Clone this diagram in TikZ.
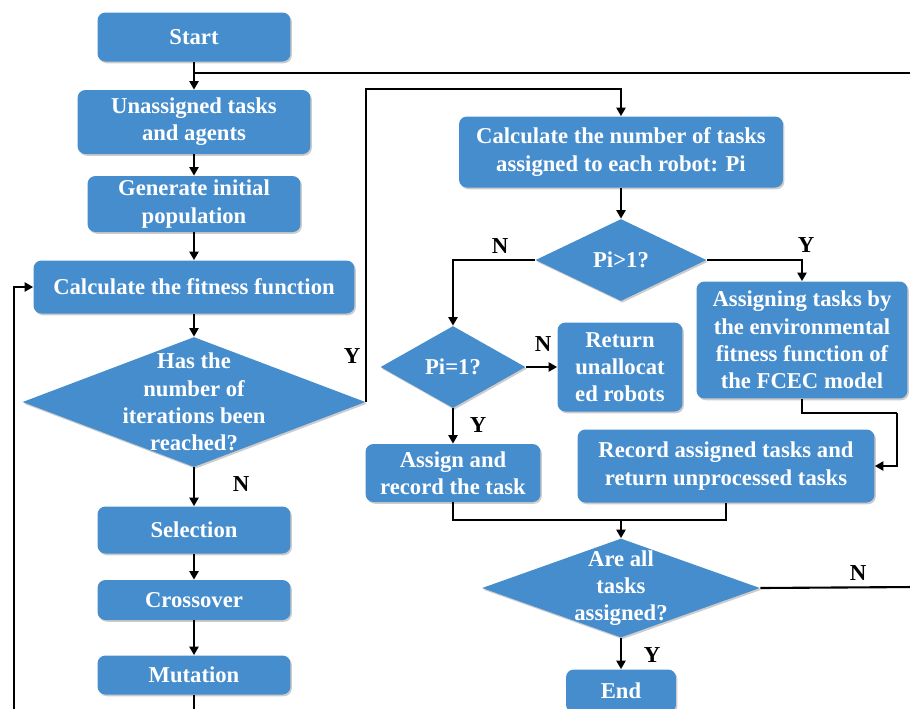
\documentclass[tikz,border=0pt]{standalone}
\usepackage{fontspec}
\setmainfont{Liberation Serif}
\usetikzlibrary{arrows.meta,shapes.geometric,shadows}
\definecolor{boxblue}{HTML}{468DCD}
\tikzset{blk/.style={fill=boxblue,rounded corners=4.5pt,text=white,align=center,inner sep=0pt,
  font=\bfseries\fontsize{12.9}{15.5}\selectfont,drop shadow={shadow xshift=0.8pt,shadow yshift=-1pt,opacity=0.4}},
dec/.style={diamond,fill=boxblue,inner sep=0pt,drop shadow={shadow xshift=0.8pt,shadow yshift=-1pt,opacity=0.4}},
dectext/.style={text=white,align=center,inner sep=0pt,font=\bfseries\fontsize{12.9}{15.5}\selectfont},
flow/.style={-{Triangle[length=1.7mm,width=1.8mm]},line width=1.2pt},
line/.style={line width=1.2pt},
yn/.style={font=\bfseries\fontsize{13}{15}\selectfont}}

\begin{document}
\begin{tikzpicture}[x=0.02cm,y=-0.02cm]
\clip (0,0) rectangle (910,708);
% genetic loop
\node[blk,minimum width=3.86cm,minimum height=0.98cm] (start) at (194,37) {Start};
\node[blk,minimum width=4.66cm,minimum height=1.28cm] (unas) at (194,122) {Unassigned tasks\\and agents};
\node[blk,minimum width=4.26cm,minimum height=1.12cm] (gen) at (194,204) {Generate initial\\population};
\node[blk,minimum width=6.42cm,minimum height=1.06cm] (fit) at (194,287) {Calculate the fitness function};
\node[dec,minimum width=6.86cm,minimum height=2.6cm,label={[dectext]center:{Has the\\number of\\iterations been\\reached?}}] (iter) at (194,402) {};
\node[blk,minimum width=3.86cm,minimum height=0.94cm] (sel) at (194,530) {Selection};
\node[blk,minimum width=3.86cm,minimum height=0.8cm] (cross) at (194,600) {Crossover};
\node[blk,minimum width=3.86cm,minimum height=0.78cm] (mut) at (194,675) {Mutation};
% task allocation
\node[blk,minimum width=6.48cm,minimum height=1.42cm] (count) at (621,152) {Calculate the number of tasks\\assigned to each robot: Pi};
\node[dec,minimum width=3.42cm,minimum height=1.64cm,label={[dectext]center:{Pi>1?}}] (pmore) at (621,260) {};
\node[blk,minimum width=4.22cm,minimum height=2.34cm] (fcec) at (802,340) {Assigning tasks by\\the environmental\\fitness function of\\the FCEC model};
\node[dec,minimum width=2.9cm,minimum height=1.64cm,label={[dectext]center:{Pi=1?}}] (pone) at (453,367) {};
\node[blk,minimum width=2.5cm,minimum height=1.78cm] (ret) at (620,367) {Return\\unallocat\\ed robots};
\node[blk,minimum width=3.5cm,minimum height=1.16cm] (asg) at (453,473) {Assign and\\record the task};
\node[blk,minimum width=5.94cm,minimum height=1.46cm] (rec) at (726,466) {Record assigned tasks and\\return unprocessed tasks};
\node[dec,minimum width=5.56cm,minimum height=1.98cm,label={[dectext]center:{Are all\\tasks\\assigned?}}] (done) at (621,588) {};
\node[blk,minimum width=2.2cm,minimum height=0.86cm] (end) at (621,691) {End};
% labels
\node[yn] (y1) at (352,356) {Y};
\node[yn] (n1) at (241,484) {N};
\node[yn] (n2) at (500,246) {N};
\node[yn] (y2) at (806,245) {Y};
\node[yn] (n3) at (543,344) {N};
\node[yn] (y3) at (478,425) {Y};
\node[yn] (n4) at (858,573) {N};
\node[yn] (y4) at (652,655) {Y};
% free ends
\coordinate (nout) at (915,587);
\coordinate (nin) at (915,73);
\coordinate (join) at (194,73);
\coordinate (mutout) at (194,715);
\coordinate (loopin) at (14,715);
\coordinate (bend) at (897,413);
\coordinate (merge) at (621,520);
% connectors
\draw[flow] (start) -- (unas);
\draw[line] (nin) -- (join);
\draw[flow] (unas) -- (gen);
\draw[flow] (gen) -- (fit);
\draw[flow] (fit) -- (iter);
\draw[flow] (iter) -- (sel);
\draw[flow] (sel) -- (cross);
\draw[flow] (cross) -- (mut);
\draw[line] (mut) -- (mutout);
\draw[flow] (loopin) |- (fit.west);
\draw[flow] (iter.east) |- ([yshift=0.54cm]count.north) -- (count.north);
\draw[flow] (count) -- (pmore);
\draw[flow] (pmore.west) -| (pone.north);
\draw[flow] (pmore.east) -| (fcec.north);
\draw[flow] (pone.east) -- (ret.west);
\draw[flow] (pone.south) -- (asg.north);
\draw[line] (fcec.south) |- (bend);
\draw[flow] (bend) |- (rec.east);
\draw[line] (asg.south) |- (merge);
\draw[line] (rec.south) |- (merge);
\draw[flow] (merge) -- (done.north);
\draw[flow] (done) -- (end);
\draw[line] (done.east) -- (nout);
\end{tikzpicture}
\end{document}
